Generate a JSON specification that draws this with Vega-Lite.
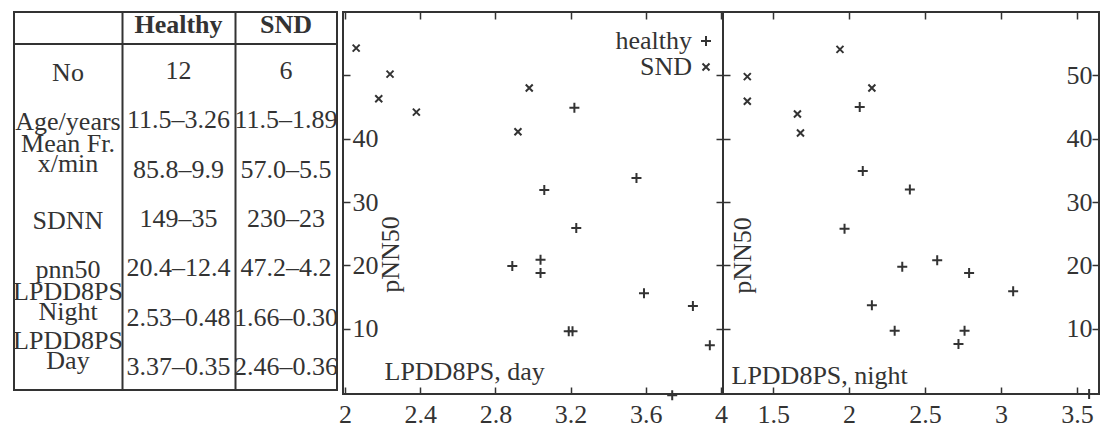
{
  "$schema": "https://vega.github.io/schema/vega-lite/v6.json",
  "background": "white",
  "padding": {"left": 12, "top": 10, "right": 0, "bottom": 0},
  "spacing": -2,
  "bounds": "full",
  "config": {
    "font": "Liberation Serif",
    "view": {"stroke": "#333", "strokeWidth": 2},
    "axis": {
      "labelFont": "Liberation Serif", "labelFontSize": 26, "labelColor": "#333",
      "titleFont": "Liberation Serif", "titleFontSize": 26, "titleFontWeight": "normal", "titleColor": "#333",
      "tickColor": "#333", "tickWidth": 1.5, "domain": false, "grid": false,
      "labelFlush": false, "labelOverlap": false
    }
  },
  "datasets": {
    "table": [
      {"row": "No", "col": 0, "text": "No"}, {"row": "No", "col": 1, "text": "12"}, {"row": "No", "col": 2, "text": "6"},
      {"row": "Age", "col": 0, "text": "Age/years"}, {"row": "Age", "col": 1, "text": "11.5–3.26"}, {"row": "Age", "col": 2, "text": "11.5–1.89"},
      {"row": "MeanFr", "col": 0, "text": ["Mean Fr.", "x/min"]}, {"row": "MeanFr", "col": 1, "text": "85.8–9.9"}, {"row": "MeanFr", "col": 2, "text": "57.0–5.5"},
      {"row": "SDNN", "col": 0, "text": "SDNN"}, {"row": "SDNN", "col": 1, "text": "149–35"}, {"row": "SDNN", "col": 2, "text": "230–23"},
      {"row": "pnn50", "col": 0, "text": "pnn50"}, {"row": "pnn50", "col": 1, "text": "20.4–12.4"}, {"row": "pnn50", "col": 2, "text": "47.2–4.2"},
      {"row": "Night", "col": 0, "text": ["LPDD8PS", "Night"]}, {"row": "Night", "col": 1, "text": "2.53–0.48"}, {"row": "Night", "col": 2, "text": "1.66–0.30"},
      {"row": "Day", "col": 0, "text": ["LPDD8PS", "Day"]}, {"row": "Day", "col": 1, "text": "3.37–0.35"}, {"row": "Day", "col": 2, "text": "2.46–0.36"}
    ],
    "header": [
      {"row": "head", "col": 1, "text": "Healthy"},
      {"row": "head", "col": 2, "text": "SND"}
    ],
    "points": [
      {"panel": "day", "group": "SND", "lpdd8ps": 2.06, "pnn50": 54.3},
      {"panel": "day", "group": "SND", "lpdd8ps": 2.24, "pnn50": 50.2},
      {"panel": "day", "group": "SND", "lpdd8ps": 2.18, "pnn50": 46.3},
      {"panel": "day", "group": "SND", "lpdd8ps": 2.38, "pnn50": 44.2},
      {"panel": "day", "group": "SND", "lpdd8ps": 2.98, "pnn50": 48.0},
      {"panel": "day", "group": "SND", "lpdd8ps": 2.92, "pnn50": 41.1},
      {"panel": "day", "group": "healthy", "lpdd8ps": 3.22, "pnn50": 44.9},
      {"panel": "day", "group": "healthy", "lpdd8ps": 3.06, "pnn50": 31.9},
      {"panel": "day", "group": "healthy", "lpdd8ps": 3.23, "pnn50": 25.9},
      {"panel": "day", "group": "healthy", "lpdd8ps": 3.55, "pnn50": 33.8},
      {"panel": "day", "group": "healthy", "lpdd8ps": 2.89, "pnn50": 19.9},
      {"panel": "day", "group": "healthy", "lpdd8ps": 3.04, "pnn50": 20.9},
      {"panel": "day", "group": "healthy", "lpdd8ps": 3.04, "pnn50": 18.8},
      {"panel": "day", "group": "healthy", "lpdd8ps": 3.19, "pnn50": 9.6},
      {"panel": "day", "group": "healthy", "lpdd8ps": 3.21, "pnn50": 9.6},
      {"panel": "day", "group": "healthy", "lpdd8ps": 3.59, "pnn50": 15.6},
      {"panel": "day", "group": "healthy", "lpdd8ps": 3.85, "pnn50": 13.6},
      {"panel": "day", "group": "healthy", "lpdd8ps": 3.94, "pnn50": 7.4},
      {"panel": "day", "group": "healthy", "lpdd8ps": 3.74, "pnn50": -0.5},
      {"panel": "night", "group": "SND", "lpdd8ps": 1.33, "pnn50": 49.8},
      {"panel": "night", "group": "SND", "lpdd8ps": 1.33, "pnn50": 45.9},
      {"panel": "night", "group": "SND", "lpdd8ps": 1.94, "pnn50": 54.1},
      {"panel": "night", "group": "SND", "lpdd8ps": 1.66, "pnn50": 43.9},
      {"panel": "night", "group": "SND", "lpdd8ps": 1.68, "pnn50": 40.9},
      {"panel": "night", "group": "SND", "lpdd8ps": 2.15, "pnn50": 48.0},
      {"panel": "night", "group": "healthy", "lpdd8ps": 2.07, "pnn50": 45.0},
      {"panel": "night", "group": "healthy", "lpdd8ps": 2.09, "pnn50": 34.9},
      {"panel": "night", "group": "healthy", "lpdd8ps": 2.40, "pnn50": 32.0},
      {"panel": "night", "group": "healthy", "lpdd8ps": 1.97, "pnn50": 25.8},
      {"panel": "night", "group": "healthy", "lpdd8ps": 2.35, "pnn50": 19.8},
      {"panel": "night", "group": "healthy", "lpdd8ps": 2.15, "pnn50": 13.7},
      {"panel": "night", "group": "healthy", "lpdd8ps": 2.30, "pnn50": 9.7},
      {"panel": "night", "group": "healthy", "lpdd8ps": 2.58, "pnn50": 20.8},
      {"panel": "night", "group": "healthy", "lpdd8ps": 2.79, "pnn50": 18.8},
      {"panel": "night", "group": "healthy", "lpdd8ps": 3.08, "pnn50": 15.9},
      {"panel": "night", "group": "healthy", "lpdd8ps": 2.76, "pnn50": 9.7},
      {"panel": "night", "group": "healthy", "lpdd8ps": 2.72, "pnn50": 7.6},
      {"panel": "night", "group": "healthy", "lpdd8ps": 3.58, "pnn50": -0.3}
    ]
  },
  "hconcat": [
    {
      "vconcat": [
        {
          "width": 323, "height": 32,
          "data": {"name": "header"},
          "mark": {"type": "text", "fontSize": 26, "fontWeight": "bold", "color": "#333", "baseline": "middle", "dy": -3},
          "encoding": {
            "x": {"field": "col", "type": "quantitative",
                  "scale": {"domain": [-0.5, 0.5, 1.5, 2.5], "range": [0, 108, 221, 323], "nice": false, "zero": false},
                  "axis": {"values": [0.5, 1.5], "grid": true, "gridColor": "#333", "gridWidth": 2, "gridOpacity": 1, "labels": false, "ticks": false, "domain": false, "title": null}},
            "y": {"field": "row", "type": "nominal", "scale": {"type": "point", "padding": 0.5}, "axis": null},
            "text": {"field": "text", "type": "nominal"}
          }
        },
        {
          "width": 323, "height": 346,
          "data": {"name": "table"},
          "encoding": {
            "x": {"field": "col", "type": "quantitative",
                  "scale": {"domain": [-0.5, 0.5, 1.5, 2.5], "range": [0, 108, 221, 323], "nice": false, "zero": false},
                  "axis": {"values": [0.5, 1.5], "grid": true, "gridColor": "#333", "gridWidth": 2, "gridOpacity": 1, "labels": false, "ticks": false, "domain": false, "title": null}},
            "y": {"field": "row", "type": "nominal", "sort": ["No", "Age", "MeanFr", "SDNN", "pnn50", "Night", "Day"],
                  "scale": {"type": "point", "padding": 0.5}, "axis": null},
            "text": {"field": "text", "type": "nominal"}
          },
          "layer": [
            {"transform": [{"filter": "datum.col > 0"}],
             "mark": {"type": "text", "fontSize": 26, "color": "#333", "baseline": "middle", "dy": 2}},
            {"transform": [{"filter": "datum.col == 0 && !isArray(datum.text)"}],
             "mark": {"type": "text", "fontSize": 26, "color": "#333", "baseline": "middle", "dy": 4}},
            {"transform": [{"filter": "datum.col == 0 && isArray(datum.text)"}],
             "mark": {"type": "text", "fontSize": 26, "color": "#333", "baseline": "top", "lineHeight": 20, "dy": -37}}
          ]
        }
      ],
      "spacing": 0,
      "bounds": "flush",
      "resolve": {"scale": {"x": "independent", "y": "independent"}}
    },
    {
      "hconcat": [
        {
          "width": 380, "height": 382,
          "data": {"name": "points"},
          "transform": [{"filter": "datum.panel == 'day'"}],
          "layer": [
            {
              "mark": {"type": "point", "filled": false, "strokeWidth": 2, "color": "#333", "opacity": 1, "size": 100},
              "encoding": {
                "x": {"field": "lpdd8ps", "type": "quantitative", "scale": {"domain": [1.99, 4.01], "nice": false, "zero": false},
                      "axis": {"orient": "bottom", "values": [2, 2.4, 2.8, 3.2, 3.6, 4], "format": "~g", "tickSize": -7, "labelPadding": 14,
                               "title": "LPDD8PS, day", "titleX": 41, "titleY": -23, "titleAlign": "left", "titleBaseline": "middle"}},
                "y": {"field": "pnn50", "type": "quantitative", "scale": {"domain": [-0.3, 60], "nice": false, "zero": false},
                      "axis": {"orient": "left", "values": [10, 20, 30, 40, 50], "labelExpr": "datum.value == 50 ? '' : datum.label",
                               "tickSize": -7, "labelPadding": -2, "labelAlign": "left", "labelBaseline": "middle",
                               "title": "pNN50", "titleX": 47, "titleY": 242, "titleAngle": -90, "titleAlign": "center", "titleBaseline": "middle"}},
                "shape": {"field": "group", "type": "nominal",
                          "scale": {"domain": ["healthy", "SND"], "range": ["M-1,0L1,0M0,-1L0,1", "M-0.7,-0.7L0.7,0.7M-0.7,0.7L0.7,-0.7"]},
                          "legend": {"orient": "none", "legendX": 350, "legendY": 16, "direction": "vertical", "title": null,
                                     "labelAlign": "right", "labelOffset": -27, "labelFontSize": 26, "labelFont": "Liberation Serif", "labelColor": "#333",
                                     "labelBaseline": "middle", "symbolSize": 100, "symbolStrokeWidth": 2, "symbolStrokeColor": "#333",
                                     "symbolFillColor": "transparent", "rowPadding": 0, "padding": 0}}
              }
            },
            {
              "mark": {"type": "point", "opacity": 0},
              "encoding": {
                "x": {"field": "lpdd8ps", "type": "quantitative",
                      "axis": {"orient": "top", "values": [2, 2.4, 2.8, 3.2, 3.6, 4], "tickSize": -7, "labels": false, "title": null}},
                "y": {"field": "pnn50", "type": "quantitative",
                      "axis": {"orient": "right", "values": [10, 20, 30, 40, 50], "tickSize": -7, "labels": false, "title": null}}
              }
            }
          ],
          "resolve": {"axis": {"x": "independent", "y": "independent"}}
        },
        {
          "width": 376, "height": 382,
          "data": {"name": "points"},
          "transform": [{"filter": "datum.panel == 'night'"}],
          "layer": [
            {
              "mark": {"type": "point", "filled": false, "strokeWidth": 2, "color": "#333", "opacity": 1, "size": 100},
              "encoding": {
                "x": {"field": "lpdd8ps", "type": "quantitative", "scale": {"domain": [1.17, 3.645], "nice": false, "zero": false},
                      "axis": {"orient": "bottom", "values": [1.5, 2, 2.5, 3, 3.5], "format": "~g", "tickSize": -7, "labelPadding": 14,
                               "title": "LPDD8PS, night", "titleX": 8, "titleY": -19, "titleAlign": "left", "titleBaseline": "middle"}},
                "y": {"field": "pnn50", "type": "quantitative", "scale": {"domain": [-0.3, 60], "nice": false, "zero": false},
                      "axis": {"orient": "left", "values": [10, 20, 30, 40, 50], "tickSize": -7, "labels": false,
                               "title": "pNN50", "titleX": 19, "titleY": 243, "titleAngle": -90, "titleAlign": "center", "titleBaseline": "middle"}},
                "shape": {"field": "group", "type": "nominal",
                          "scale": {"domain": ["healthy", "SND"], "range": ["M-1,0L1,0M0,-1L0,1", "M-0.7,-0.7L0.7,0.7M-0.7,0.7L0.7,-0.7"]},
                          "legend": null}
              }
            },
            {
              "mark": {"type": "point", "opacity": 0},
              "encoding": {
                "x": {"field": "lpdd8ps", "type": "quantitative",
                      "axis": {"orient": "top", "values": [1.5, 2, 2.5, 3, 3.5], "tickSize": -7, "labels": false, "title": null}},
                "y": {"field": "pnn50", "type": "quantitative",
                      "axis": {"orient": "right", "values": [10, 20, 30, 40, 50], "tickSize": -7, "labelPadding": 0, "labelAlign": "right",
                               "labelBaseline": "middle", "title": null}}
              }
            }
          ],
          "resolve": {"axis": {"x": "independent", "y": "independent"}}
        }
      ],
      "spacing": 0,
      "bounds": "flush",
      "resolve": {"scale": {"x": "independent", "shape": "independent"}, "legend": {"shape": "independent"}}
    }
  ]
}
